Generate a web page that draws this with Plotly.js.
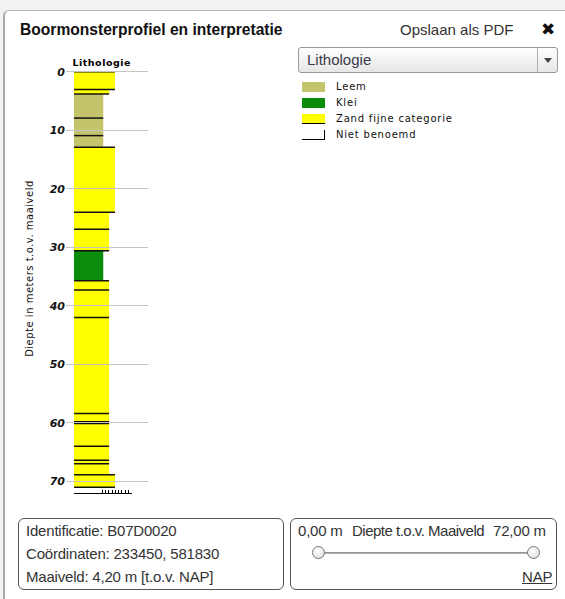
<!DOCTYPE html>
<html>
<head>
<meta charset="utf-8">
<script src="https://cdn.plot.ly/plotly-3.0.1.min.js"></script>
<style>
html,body{margin:0;padding:0;width:565px;height:599px;overflow:hidden;background:#f3f3f3;font-family:"Liberation Sans",Arial,sans-serif;}
#dialog{position:absolute;left:3px;top:10px;width:640px;height:650px;background:#fff;border:1px solid #b4b4b4;border-left:2px solid #a8a8a8;border-radius:6px;}
#plot{position:absolute;left:0;top:0;width:565px;height:599px;z-index:2;}
.t{position:absolute;white-space:nowrap;z-index:3;color:#222;}
#title{left:20px;top:21px;font-size:15.6px;font-weight:bold;color:#111;}
#pdf{left:400px;top:21px;font-size:15px;color:#333;}
#close{left:541px;top:19px;font-size:17px;font-weight:bold;color:#111;font-family:"DejaVu Sans",sans-serif;}
#dropdown{position:absolute;left:298px;top:47px;width:258px;height:24px;border:1px solid #9a9a9a;border-radius:3px;background:linear-gradient(#ffffff,#e6e6e6);z-index:3;}
#dropdown .lab{position:absolute;left:8px;top:3px;font-size:15px;color:#3a3a4a;}
#dropdown .sep{position:absolute;left:238px;top:0;width:1px;height:24px;background:#b0b0b0;}
#dropdown .arr{position:absolute;left:245px;top:10px;width:0;height:0;border-left:4px solid transparent;border-right:4px solid transparent;border-top:5px solid #444;}
#legend{position:absolute;left:302px;top:81px;z-index:3;font-family:"DejaVu Sans",sans-serif;font-size:10px;color:#111;}
.row{position:relative;height:16px;}
.sw{position:absolute;left:0;top:1px;width:23px;height:10px;box-sizing:border-box;}
.rl{position:absolute;left:34px;top:0px;white-space:nowrap;letter-spacing:0.8px;}
.box{position:absolute;top:518px;height:72px;border:1px solid #555;border-radius:6px;background:#fff;z-index:3;box-sizing:border-box;}
.box .l{position:absolute;white-space:nowrap;font-size:15px;color:#333;letter-spacing:-0.2px;}
#track{position:absolute;left:320px;top:552px;width:212px;height:2px;background:linear-gradient(#888,#bbb);z-index:4;}
.knob{position:absolute;top:546px;width:13px;height:13px;border-radius:50%;border:1px solid #777;background:radial-gradient(circle at 40% 35%,#ffffff,#d8d8d8);z-index:5;box-sizing:border-box;}
#plot .annotation text{letter-spacing:0.5px;}
</style>
</head>
<body>
<div id="dialog"></div>
<div id="plot"></div>
<div class="t" id="title">Boormonsterprofiel en interpretatie</div>
<div class="t" id="pdf">Opslaan als PDF</div>
<div class="t" id="close">✖</div>
<div id="dropdown"><span class="lab">Lithologie</span><span class="sep"></span><span class="arr"></span></div>
<div id="legend"></div>
<div class="box" style="left:18px;width:266px;">
  <div class="l" style="left:7px;top:3px;">Identificatie: B07D0020</div>
  <div class="l" style="left:7px;top:26px;">Coördinaten: 233450, 581830</div>
  <div class="l" style="left:7px;top:49px;">Maaiveld: 4,20 m [t.o.v. NAP]</div>
</div>
<div class="box" style="left:290px;width:267px;">
  <div class="l" style="left:7px;top:3px;">0,00 m</div>
  <div class="l" style="left:61px;top:3px;letter-spacing:-0.5px;">Diepte t.o.v. Maaiveld</div>
  <div class="l" style="left:202px;top:3px;">72,00 m</div>
  <div class="l" style="left:231px;top:49px;text-decoration:underline;">NAP</div>
</div>
<div id="track"></div>
<div class="knob" style="left:312px;"></div>
<div class="knob" style="left:527px;"></div>
<script>
// Lithologie categorieën
const lithoNamen = ['Leem', 'Klei', 'Zand fijne categorie', 'Niet benoemd'];
const lithoKleuren = ['#c4c46c', '#0b8c0b', '#ffff00', '#ffffff'];

// Boorlagen (diepte in m t.o.v. maaiveld)
const lagenBoven = [0, 3.0, 3.8, 7.9, 10.9, 12.9, 24.0, 26.9, 30.6, 35.7, 37.3, 42.0, 58.4, 59.8, 60.1, 64.0, 66.4, 67.0, 68.9, 71.0];
const lagenOnder = [3.0, 3.8, 7.9, 10.9, 12.9, 24.0, 26.9, 30.6, 35.7, 37.3, 42.0, 58.4, 59.8, 60.1, 64.0, 66.4, 67.0, 68.9, 71.0, 72.0];
const lagenLitho = ['Zand fijne categorie', 'Zand fijne categorie', 'Leem', 'Leem', 'Leem',
  'Zand fijne categorie', 'Zand fijne categorie', 'Zand fijne categorie', 'Klei',
  'Zand fijne categorie', 'Zand fijne categorie', 'Zand fijne categorie', 'Zand fijne categorie', 'Klei',
  'Zand fijne categorie', 'Zand fijne categorie', 'Zand fijne categorie', 'Zand fijne categorie',
  'Zand fijne categorie', 'Niet benoemd'];
const lagenKlasse = [7, 6, 5, 5, 5, 7, 6, 6, 5, 6, 6, 6, 6, 5, 6, 6, 6, 6, 7, 7];

// As-labels
const diepteTicks = [0, 10, 20, 30, 40, 50, 60, 70];
const schaalTicks = [4.8, 5.4, 5.9, 6.5, 7.1, 7.6, 8.2, 8.8, 9.3, 9.9];
const maxDiepte = 72;

// legenda
const leg = document.getElementById('legend');
lithoNamen.forEach((n, i) => {
  const row = document.createElement('div');
  row.className = 'row';
  const sw = document.createElement('div');
  sw.className = 'sw';
  sw.style.background = lithoKleuren[i];
  if (n === 'Zand fijne categorie') sw.style.borderBottom = '1px solid #000';
  if (n === 'Niet benoemd') { sw.style.borderBottom = '1px solid #000'; sw.style.borderRight = '1px solid #000'; }
  const lb = document.createElement('div');
  lb.className = 'rl';
  lb.textContent = n;
  row.appendChild(sw); row.appendChild(lb);
  leg.appendChild(row);
});

const traces = [];
lithoNamen.forEach((n, k) => {
  const idx = lagenLitho.map((l, i) => l === n ? i : -1).filter(i => i >= 0);
  traces.push({
    type: 'bar', orientation: 'h', name: n,
    y: idx.map(i => (lagenBoven[i] + lagenOnder[i]) / 2),
    width: idx.map(i => lagenOnder[i] - lagenBoven[i]),
    x: idx.map(i => lagenKlasse[i]),
    base: 0,
    marker: {color: lithoKleuren[k], line: {width: 0}},
    hoverinfo: 'skip', showlegend: false
  });
});

// laaggrenzen
const gx = [], gy = [];
lagenBoven.forEach((d, i) => {
  const w = i > 0 ? Math.max(lagenKlasse[i], lagenKlasse[i - 1]) : lagenKlasse[i];
  gx.push(0, w, null); gy.push(d, d, null);
});
traces.push({
  type: 'scatter', mode: 'lines', x: gx, y: gy,
  line: {color: '#111', width: 1.5}, hoverinfo: 'skip', showlegend: false
});
traces.push({type: 'scatter', mode: 'markers', x: [], y: [], xaxis: 'x2', yaxis: 'y', showlegend: false, hoverinfo: 'skip'});

const layout = {
  width: 565, height: 599,
  margin: {l: 66, r: 417, t: 66, b: 106, pad: 0},
  paper_bgcolor: 'rgba(0,0,0,0)', plot_bgcolor: 'rgba(0,0,0,0)',
  barmode: 'overlay', showlegend: false,
  xaxis: {range: [-1.37, 12.65], showgrid: false, zeroline: false, showticklabels: false, ticks: '', showline: false, fixedrange: true},
  xaxis2: {domain: [8 / 82, 66 / 82], range: [0, 9.91], anchor: 'y', showgrid: false, zeroline: false,
    showticklabels: false, ticks: 'inside', ticklen: 3, tickwidth: 1, tickcolor: '#000', tickvals: schaalTicks,
    showline: true, linecolor: '#000', linewidth: 1, fixedrange: true},
  yaxis: {range: [maxDiepte, -1], tickvals: diepteTicks, ticktext: diepteTicks.map(String), ticks: '',
    showgrid: true, gridcolor: '#c4c4c4', gridwidth: 1, zeroline: false, showline: false, fixedrange: true,
    tickfont: {family: 'DejaVu Sans', size: 11, color: '#111', weight: 'bold', style: 'italic'}},
  annotations: [
    {text: 'Lithologie', xref: 'paper', yref: 'paper', x: 0.427, y: 1.026, showarrow: false,
      font: {family: 'DejaVu Sans', size: 9.5, color: '#000', weight: 'bold'}},
    {text: 'Diepte in meters t.o.v. maaiveld', xref: 'paper', yref: 'paper', x: -0.537, y: 0.526,
      textangle: -90, showarrow: false, font: {family: 'DejaVu Sans', size: 10, color: '#111'}}
  ]
};
Plotly.newPlot('plot', traces, layout, {displayModeBar: false, staticPlot: true});
</script>
</body>
</html>
